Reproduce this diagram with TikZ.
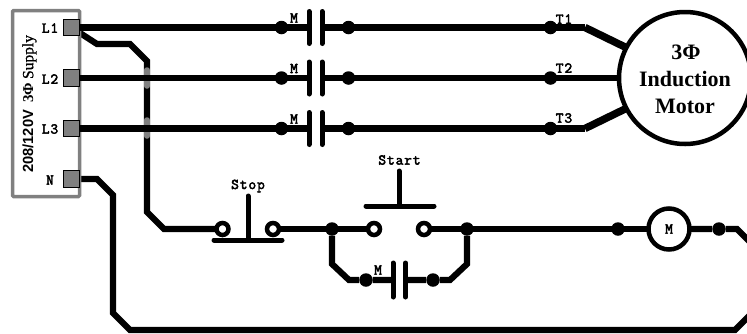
\documentclass[tikz,border=0pt]{standalone}
\usepackage{fontspec}
\setmainfont{Liberation Serif}
\setsansfont{Liberation Sans}
\newfontfamily\courfont[FakeBold=3,LetterSpace=6]{Latin Modern Mono}
\newfontfamily\supfont[FakeBold=1]{Liberation Serif}
\pgfdeclarelayer{under}
\pgfsetlayers{under,main}
\tikzset{
  x=1pt,y=-1pt,
  wire/.style={line width=6.2pt,black,line join=miter},
  thick wire/.style={line width=7.5pt,black},
  plate/.style={line width=5pt,black,line cap=round},
  dot/.style={circle,fill=black,draw=none,minimum size=13.5pt,inner sep=0pt},
  hollow/.style={circle,fill=white,draw=black,line width=4.5pt,minimum size=12pt,inner sep=0pt},
  term/.style={rectangle,fill=black!50,draw=black,line width=1pt,minimum size=16.5pt,inner sep=0pt},
  mono/.style={font=\courfont\fontsize{15}{16}\selectfont,inner sep=0pt},
  motor/.style={font=\bfseries\fontsize{22}{24}\selectfont,inner sep=0pt},
}
\begin{document}
\begin{tikzpicture}
\useasboundingbox (0,0) rectangle (747,333);
% supply box
\node[draw=black!50,line width=3.5pt,rounded corners=1pt,minimum width=67pt,minimum height=186pt,inner sep=0pt] (box) at (46,103.5) {};
\node[rotate=90,anchor=west,inner sep=0pt] (sup) at (29.5,173) {{\sffamily\bfseries\fontsize{14.7}{15}\selectfont 208/120V}\hspace{7pt}{\bfseries\fontsize{15}{15}\selectfont 3Φ}\hspace{4pt}{\supfont\fontsize{15.5}{15}\selectfont Supply}};
% terminals
\node[term] (L1) at (71.5,27.5) {};
\node[term] (L2) at (71.5,78) {};
\node[term] (L3) at (71.5,128.5) {};
\node[term] (N) at (71.5,179) {};
\node[mono] at (50,28) {L1};
\node[mono] at (50,79) {L2};
\node[mono] at (50,129) {L3};
\node[mono] at (50,180) {N};
% motor
\node[circle,draw=black,line width=4.5pt,fill=white,minimum size=132pt,inner sep=0pt] (mot) at (685,78) {};
\node[motor] at (686,52) {3Φ};
\node[motor] at (685,79) {Induction};
\node[motor] at (685,106) {Motor};
% coordinates
\coordinate (b1) at (97,44); \coordinate (b2) at (130,44); \coordinate (b3) at (147,61);
\coordinate (b4) at (147,212); \coordinate (b5) at (164,229);
\coordinate (t1) at (585,27.5); \coordinate (t2) at (585,128.5);
\coordinate (m1) at (625,47); \coordinate (m3) at (625,109);
% rung nodes
\node[hollow] (st1) at (222.5,229) {};
\node[hollow] (st2) at (273,229) {};
\node[hollow] (sa1) at (374,229) {};
\node[hollow] (sa2) at (424,229) {};
\node[dot] (j1) at (332,229) {};
\node[dot] (j2) at (467,229) {};
\node[dot] (j3) at (618,229) {};
\node[dot] (j4) at (719,229) {};
\node[mono,circle,draw=black,line width=4.5pt,fill=white,minimum size=41pt,inner sep=0pt] (coil) at (669,229) {M};
% L1 branch to stop
\begin{pgfonlayer}{under}
\draw[wire] (L1.center) -- (b1) -- (b2) -- (b3) -- (b4) -- (b5) -- (st1.center);
\draw[wire] (st2.center) -- (sa1.center);
\draw[wire] (sa2.center) -- (coil.center);
\draw[wire] (coil.center) -- (j4) -- (737,229) -- (755,247);
\draw[wire] (N.center) -- (97,179) -- (113,195) -- (113,313) -- (130,330) -- (735,330) -- (755,310);
\end{pgfonlayer}
\draw[line width=5.5pt,black!50,line cap=round] (147,70) -- (147,86);
\draw[line width=5.5pt,black!50,line cap=round] (147,120) -- (147,136);
% phase lines
\draw[wire] (L1) -- (t1);
\draw[wire] (L2) -- (mot);
\draw[wire] (L3) -- (t2);
\draw[thick wire] (t1) -- (m1);
\draw[thick wire] (t2) -- (m3);
% contacts
\foreach \y/\n in {27.5/a,78/b,128.5/c}{
  \node[dot] (d\n1) at (281.5,\y) {};
  \node[dot] (d\n2) at (348.5,\y) {};
  \node[dot] (d\n3) at (550.5,\y) {};
  \fill[white] (309,\y-6) rectangle (322,\y+6);
  \draw[plate] (309,\y-16) -- (309,\y+16);
  \draw[plate] (322,\y-16) -- (322,\y+16);
  \node[mono] at (294,\y-9.5) {M};
}
\node[mono] at (564,19) {T1};
\node[mono] at (564,68) {T2};
\node[mono] at (564,118) {T3};
% stop
\node[mono] at (248,186) {Stop};
\draw[plate] (248,196) -- (248,240);
\draw[plate] (214,240) -- (282,240);
% start
\node[mono] at (399.5,160) {Start};
\draw[plate] (399,171) -- (399,206);
\draw[plate] (366,206) -- (434,206);
% seal
\node[dot] (s1) at (366,280) {};
\node[dot] (s2) at (433,280) {};
\draw[wire] (j1) -- (332,264) -- (349,280) -- (s1) -- (393,280);
\draw[wire] (j2) -- (467,264) -- (450,280) -- (s2) -- (405,280);
\draw[plate] (393,263) -- (393,297);
\draw[plate] (405.5,263) -- (405.5,297);
\node[mono] at (378,270) {M};
\end{tikzpicture}
\end{document}
